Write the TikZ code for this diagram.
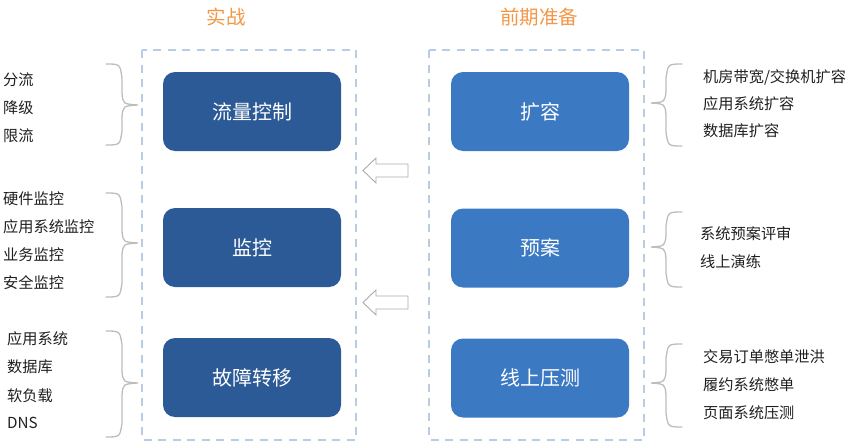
\documentclass[tikz,border=0pt]{standalone}
\usepackage{fontspec}
\setmainfont{Noto Sans CJK SC}
\definecolor{darkbox}{HTML}{2C5A96}
\definecolor{lightbox}{HTML}{3B79C3}
\definecolor{dashblue}{HTML}{B9CCE6}
\definecolor{titleorange}{HTML}{F29746}
\definecolor{bracegray}{HTML}{BDBDBD}
\definecolor{arrowgray}{HTML}{ABABAB}
\newcommand\BraceRight[4]{% x0, ytop, ybottom, ytip : tip points right
  \draw[bracestyle] (#1,#2) .. controls (#1+14,#2) .. (#1+16,#2+14)
    -- (#1+16,#4-12) .. controls (#1+17,#4-1) .. (#1+32,#4)
    .. controls (#1+17,#4+1) .. (#1+16,#4+12)
    -- (#1+16,#3-14) .. controls (#1+14,#3) .. (#1,#3);}
\newcommand\BraceLeft[4]{% x0 (tip x), ytop, ybottom, ytip : tip points left
  \draw[bracestyle] (#1+31,#2) .. controls (#1+17,#2) .. (#1+15,#2+14)
    -- (#1+15,#4-12) .. controls (#1+14,#4-1) .. (#1,#4)
    .. controls (#1+14,#4+1) .. (#1+15,#4+12)
    -- (#1+15,#3-14) .. controls (#1+17,#3) .. (#1+31,#3);}
\newcommand\HollowArrow[1]{% y centre
  \draw[hollowarrow] (363,#1) -- (376,#1-12.5) -- (376,#1-6.5) -- (408,#1-6.5)
    -- (408,#1+6.5) -- (376,#1+6.5) -- (376,#1+12.5) -- cycle;}
\begin{document}
\begin{tikzpicture}[x=1pt,y=-1pt,
  bracestyle/.style={draw=bracegray, line width=1.3pt, line cap=round},
  frame/.style={draw=dashblue, line width=1.9pt, dash pattern=on 8pt off 6.5pt},
  boxstyle/.style={rounded corners=12pt, minimum width=178pt, minimum height=79pt, inner sep=0pt, text=white, font=\fontsize{20}{24}\selectfont},
  darkstyle/.style={boxstyle, fill=darkbox},
  lightstyle/.style={boxstyle, fill=lightbox},
  title/.style={text=titleorange, font=\fontsize{19.5}{24}\selectfont},
  label/.style={anchor=west, inner sep=0pt, font=\fontsize{15.2}{18}\selectfont, text=black!88},
  hollowarrow/.style={draw=arrowgray, line width=0.9pt, fill=white, line join=miter}
]
\useasboundingbox (0,0) rectangle (854,447);
% titles
\node[title] (t1) at (226,17) {实战};
\node[title] (t2) at (539,17) {前期准备};
% frames
\draw[frame] (142,50) rectangle (356,440);
\draw[frame] (429,50) rectangle (644,440);
% left boxes
\node[darkstyle] (a1) at (252,111.5) {流量控制};
\node[darkstyle] (a2) at (252,247.5) {监控};
\node[darkstyle] (a3) at (252,377.5) {故障转移};
% right boxes
\node[lightstyle] (b1) at (540,111.5) {扩容};
\node[lightstyle] (b2) at (540,248) {预案};
\node[lightstyle] (b3) at (540,378) {线上压测};
% arrows
\HollowArrow{170.5}
\HollowArrow{302.5}
% left braces
\BraceRight{106}{64}{145}{105}
\BraceRight{106}{193}{297}{243}
\BraceRight{106}{331}{437}{383}
% right braces
\BraceLeft{651}{64}{146}{103}
\BraceLeft{651}{212}{287}{247}
\BraceLeft{651}{344}{427}{383}
% left labels
\node[label] (l11) at (3,80) {分流};
\node[label] (l12) at (3,108) {降级};
\node[label] (l13) at (3,136) {限流};
\node[label] (l21) at (3,199) {硬件监控};
\node[label] (l22) at (3,227) {应用系统监控};
\node[label] (l23) at (3,255) {业务监控};
\node[label] (l24) at (3,283) {安全监控};
\node[label] (l31) at (7,339) {应用系统};
\node[label] (l32) at (7,367) {数据库};
\node[label] (l33) at (7,396) {软负载};
\node[label] (l34) at (7,423) {DNS};
% right labels
\node[label] (r11) at (703,77) {机房带宽/交换机扩容};
\node[label] (r12) at (703,104) {应用系统扩容};
\node[label] (r13) at (703,131) {数据库扩容};
\node[label] (r21) at (700,234) {系统预案评审};
\node[label] (r22) at (700,262) {线上演练};
\node[label] (r31) at (703,357) {交易订单憋单泄洪};
\node[label] (r32) at (703,385) {履约系统憋单};
\node[label] (r33) at (703,413) {页面系统压测};
\end{tikzpicture}
\end{document}
